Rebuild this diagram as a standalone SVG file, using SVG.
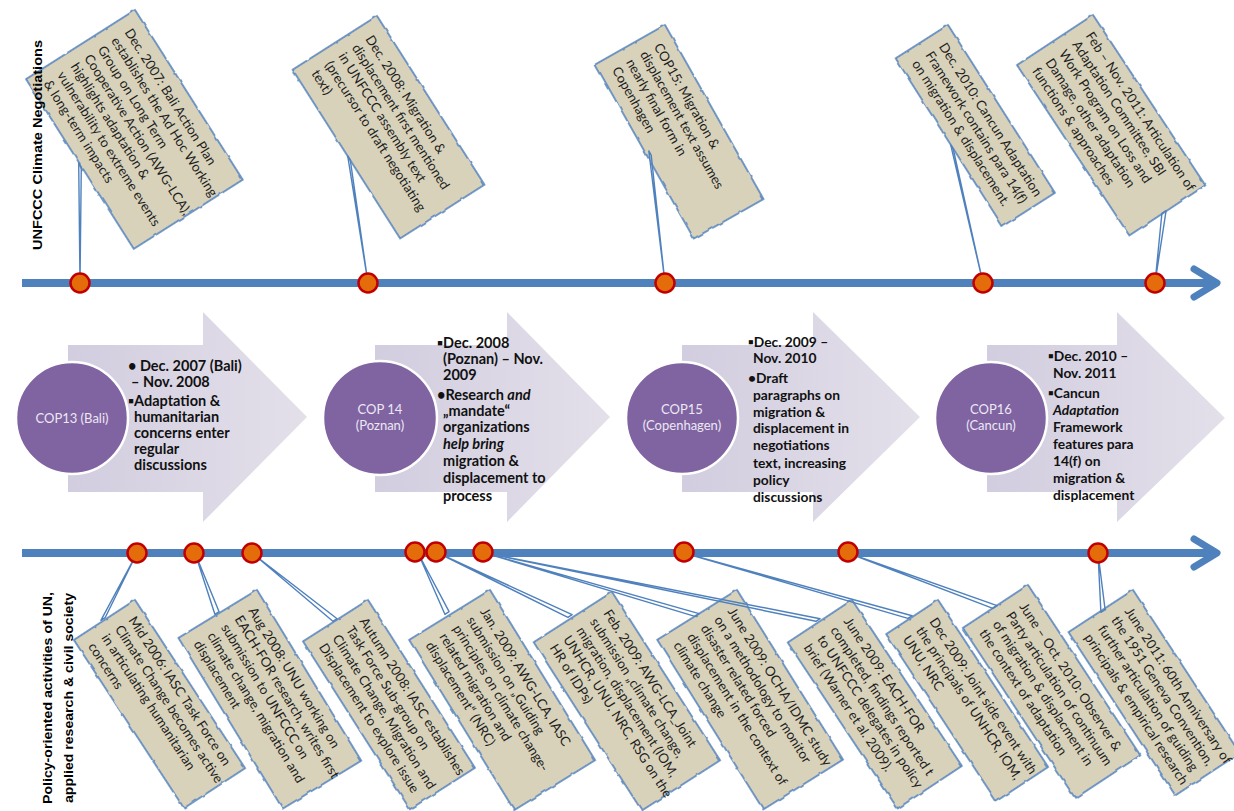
<svg xmlns="http://www.w3.org/2000/svg" width="1234" height="811" viewBox="0 0 1234 811">
<defs>
<filter id="rough" x="-5%" y="-5%" width="110%" height="110%">
<feTurbulence type="fractalNoise" baseFrequency="0.09" numOctaves="2" seed="4" result="n"/>
<feDisplacementMap in="SourceGraphic" in2="n" scale="3" xChannelSelector="R" yChannelSelector="G"/>
</filter>
<linearGradient id="arr" x1="0" y1="0" x2="1" y2="0">
<stop offset="0" stop-color="#d2cddf"/>
<stop offset="1" stop-color="#e3e0ea"/>
</linearGradient>
</defs>
<style>
.tl{stroke:#4f81bd;stroke-width:8;fill:none}
.chev{stroke:#4f81bd;stroke-width:7;fill:none;stroke-linejoin:round;stroke-linecap:round}
.dot{fill:#e46c0a;stroke:#c00000;stroke-width:2.5}
.box{fill:#d8d2bb;stroke:#4f81bd;stroke-width:1.6;filter:url(#rough)}
.bt{font-family:Lato,"Liberation Sans",sans-serif;font-size:13.3px;fill:#1e1e1e}
.con{fill:none;stroke:#4f81bd;stroke-width:1.4;stroke-linejoin:round}
.arrow{fill:url(#arr)}
.circ{fill:#8064a2;stroke:#ffffff;stroke-width:2.5}
.ct{font-family:Lato,"Liberation Sans",sans-serif;font-size:13px;fill:#ece8f4;text-anchor:middle}
.at{font-family:Lato,"Liberation Sans",sans-serif;font-weight:bold;fill:#111111}
.a15{font-size:14.5px}
.a14{font-size:13.8px}
.side{font-family:"Liberation Sans",Arial,sans-serif;font-weight:bold;font-size:13px;fill:#000000}
</style>

<g id="timelines">
<line class="tl" x1="22" y1="283" x2="1214" y2="283"/>
<polyline class="chev" points="1194,269 1217,283 1194,297"/>
<line class="tl" x1="22" y1="553" x2="1214" y2="553"/>
<polyline class="chev" points="1194,539 1217,553 1194,567"/>
</g>

<g id="phase1">
<polygon class="arrow" points="68,345 203,345 203,312 307,417 203,522 203,492 68,492"/>
<circle class="circ" cx="72" cy="418" r="56"/>
<text class="ct" x="72" y="423">COP13 (Bali)</text>
<g class="at a15">
<text x="128" y="371">• Dec. 2007 (Bali)</text>
<text x="131" y="387">– Nov. 2008</text>
<text x="128" y="406">▪Adaptation &amp;</text>
<text x="134" y="422">humanitarian</text>
<text x="134" y="438">concerns enter</text>
<text x="134" y="454">regular</text>
<text x="134" y="470">discussions</text>
</g>
</g>

<g id="phase2">
<polygon class="arrow" points="375,345 507,345 507,312 610,417 507,522 507,492 375,492"/>
<circle class="circ" cx="380" cy="418" r="57"/>
<text class="ct" x="380" y="414">COP 14</text>
<text class="ct" x="380" y="430">(Poznan)</text>
<g class="at a15">
<text x="437" y="348">▪Dec. 2008</text>
<text x="443" y="364">(Poznan) – Nov.</text>
<text x="443" y="380">2009</text>
<text x="437" y="400">•Research <tspan font-style="italic">and</tspan></text>
<text x="443" y="416">„mandate“</text>
<text x="443" y="432">organizations</text>
<text x="443" y="449" font-style="italic">help bring</text>
<text x="443" y="466">migration &amp;</text>
<text x="443" y="483">displacement to</text>
<text x="443" y="501">process</text>
</g>
</g>

<g id="phase3">
<polygon class="arrow" points="682,345 813,345 813,312 920,417 813,522 813,492 682,492"/>
<circle class="circ" cx="682" cy="418" r="56"/>
<text class="ct" x="682" y="414">COP15</text>
<text class="ct" x="682" y="430">(Copenhagen)</text>
<g class="at a14">
<text x="748" y="347">▪Dec. 2009 –</text>
<text x="753" y="363">Nov. 2010</text>
<text x="748" y="383">•Draft</text>
<text x="753" y="400">paragraphs on</text>
<text x="753" y="417">migration &amp;</text>
<text x="753" y="433">displacement in</text>
<text x="753" y="450">negotiations</text>
<text x="753" y="468">text, increasing</text>
<text x="753" y="485">policy</text>
<text x="753" y="502">discussions</text>
</g>
</g>

<g id="phase4">
<polygon class="arrow" points="987,345 1117,345 1117,312 1225,418 1117,522 1117,492 987,492"/>
<circle class="circ" cx="991" cy="418" r="56"/>
<text class="ct" x="991" y="414">COP16</text>
<text class="ct" x="991" y="430">(Cancun)</text>
<g class="at a14">
<text x="1048" y="361">▪Dec. 2010 –</text>
<text x="1053" y="378">Nov. 2011</text>
<text x="1048" y="398">▪Cancun</text>
<text x="1053" y="415" font-style="italic">Adaptation</text>
<text x="1053" y="432">Framework</text>
<text x="1053" y="449">features para</text>
<text x="1053" y="466">14(f) on</text>
<text x="1053" y="483">migration &amp;</text>
<text x="1053" y="500">displacement</text>
</g>
</g>

<g id="t1" transform="translate(135,10) rotate(57.6)">
<rect class="box" x="0" y="0" width="201" height="129"/>
<text class="bt" x="13" y="21">Dec. 2007: Bali Action Plan<tspan x="13" dy="16">establishes the Ad Hoc Working</tspan><tspan x="13" dy="16">Group on Long Term</tspan><tspan x="13" dy="16">Cooperative Action (AWG-LCA),</tspan><tspan x="13" dy="16">highlights adaptation &amp;</tspan><tspan x="13" dy="16">vulnerability to extreme events</tspan><tspan x="13" dy="16">&amp; long-term impacts</tspan></text>
</g>
<g id="t2" transform="translate(377,16) rotate(57.5)">
<rect class="box" x="0" y="0" width="200" height="100"/>
<text class="bt" x="13" y="22.5">Dec. 2008: Migration &amp;<tspan x="13" dy="16">displacement first mentioned</tspan><tspan x="13" dy="16">in  UNFCCC  assembly text</tspan><tspan x="13" dy="16">(precursor to draft negotiating</tspan><tspan x="13" dy="16">text)</tspan></text>
</g>
<g id="t3" transform="translate(665,25) rotate(60.5)">
<rect class="box" x="0" y="0" width="200" height="80"/>
<text class="bt" x="13" y="20.5">COP15: Migration &amp;<tspan x="13" dy="16">displacement text assumes</tspan><tspan x="13" dy="16">nearly final form in</tspan><tspan x="13" dy="16">Copenhagen</tspan></text>
</g>
<g id="t4" transform="translate(948,25) rotate(57.5)">
<rect class="box" x="0" y="0" width="199" height="62"/>
<text class="bt" x="13" y="19.5">Dec. 2010: Cancun Adaptation<tspan x="13" dy="16">Framework contains para 14(f)</tspan><tspan x="13" dy="16">on migration &amp; displacement.</tspan></text>
</g>
<g id="t5" transform="translate(1093,15) rotate(56.6)">
<rect class="box" x="0" y="0" width="204" height="91"/>
<text class="bt" x="13" y="18">Feb – Nov. 2011: Articulation of<tspan x="13" dy="16">Adaptation Committee, SBI</tspan><tspan x="13" dy="16">Work Program on Loss and</tspan><tspan x="13" dy="16">Damage, other adaptation</tspan><tspan x="13" dy="16">functions &amp; approaches</tspan></text>
</g>

<g id="b1" transform="translate(135,600) rotate(56.8)">
<rect class="box" x="0" y="0" width="201" height="73"/>
<text class="bt" x="13" y="17">Mid 2006: IASC Task Force on<tspan x="13" dy="16">Climate Change becomes active</tspan><tspan x="13" dy="16">in articulating humanitarian</tspan><tspan x="13" dy="16">concerns</tspan></text>
</g>
<g id="b2" transform="translate(257,590) rotate(58.6)">
<rect class="box" x="0" y="0" width="200" height="92"/>
<text class="bt" x="13" y="18.5">Aug 2008: UNU working on<tspan x="13" dy="16">EACH-FOR research, writes first</tspan><tspan x="13" dy="16">submission to UNFCCC on</tspan><tspan x="13" dy="16">climate change, migration and</tspan><tspan x="13" dy="16">displacement</tspan></text>
</g>
<g id="b3" transform="translate(368,600) rotate(57.5)">
<rect class="box" x="0" y="0" width="199" height="77"/>
<text class="bt" x="13" y="19">Autumn 2008: IASC establishes<tspan x="13" dy="16">Task Force Sub-group on</tspan><tspan x="13" dy="16">Climate Change, Migration and</tspan><tspan x="13" dy="16">Displacement to explore issue</tspan></text>
</g>
<g id="b4" transform="translate(490,590) rotate(58.3)">
<rect class="box" x="0" y="0" width="200" height="95"/>
<text class="bt" x="13" y="20">Jan. 2009: AWG-LCA, IASC<tspan x="13" dy="16">submission on „Guiding</tspan><tspan x="13" dy="16">principles on climate change-</tspan><tspan x="13" dy="16">related migration and</tspan><tspan x="13" dy="16">displacement“ (NRC)</tspan></text>
</g>
<g id="b5" transform="translate(612,592) rotate(57.3)">
<rect class="box" x="0" y="0" width="200" height="93"/>
<text class="bt" x="13" y="19">Feb. 2009: AWG-LCA_Joint<tspan x="13" dy="16">submission „climate change,</tspan><tspan x="13" dy="16">migration, displacement (IOM,</tspan><tspan x="13" dy="16">UNHCR, UNU, NRC, RSG on the</tspan><tspan x="13" dy="16">HR of IDPs)</tspan></text>
</g>
<g id="b6" transform="translate(737,590) rotate(58)">
<rect class="box" x="0" y="0" width="200" height="94"/>
<text class="bt" x="13" y="19.5">June 2009: OCHA/IDMC study<tspan x="13" dy="16">on a methodology to monitor</tspan><tspan x="13" dy="16">disaster related forced</tspan><tspan x="13" dy="16">displacement in the context of</tspan><tspan x="13" dy="16">climate change</tspan></text>
</g>
<g id="b7" transform="translate(852,600) rotate(56.5)">
<rect class="box" x="0" y="0" width="199" height="77"/>
<text class="bt" x="13" y="19">June 2009: EACH-FOR<tspan x="13" dy="16">completed, findings reported t</tspan><tspan x="13" dy="16">to UNFCCC delegates in policy</tspan><tspan x="13" dy="16">brief (Warner et al. 2009).</tspan></text>
</g>
<g id="b8" transform="translate(938,600) rotate(56.6)">
<rect class="box" x="0" y="0" width="200" height="62"/>
<text class="bt" x="13" y="19.5">Dec 2009: Joint side event  with<tspan x="13" dy="16">the principals of UNHCR, IOM,</tspan><tspan x="13" dy="16">UNU, NRC</tspan></text>
</g>
<g id="b9" transform="translate(1028,585) rotate(56.6)">
<rect class="box" x="0" y="0" width="204" height="78"/>
<text class="bt" x="13" y="19.5">June – Oct. 2010: Observer &amp;<tspan x="13" dy="16">Party articulation of continuum</tspan><tspan x="13" dy="16">of migration &amp; displacment in</tspan><tspan x="13" dy="16">the context of adaptation</tspan></text>
</g>
<g id="b10" transform="translate(1133,590) rotate(56.8)">
<rect class="box" x="0" y="0" width="195" height="77"/>
<text class="bt" x="13" y="19">June 2011: 60th Anniversary of<tspan x="13" dy="16">the 1951 Geneva Convention,</tspan><tspan x="13" dy="16">further articulation of guiding</tspan><tspan x="13" dy="16">principals &amp; empirical research</tspan></text>
</g>

<g id="connectors">
<polygon class="con" points="80,283 78.7,162.9 81.3,167.1"/>
<polygon class="con" points="368,283 347.7,155.9 350.3,160.1"/>
<polygon class="con" points="665,283 648.8,150.9 651.2,155.1"/>
<polygon class="con" points="983,283 950.7,144.9 953.3,149.1"/>
<polygon class="con" points="1155,283 1166.1,210.6 1161.9,213.4"/>
<polygon class="con" points="137,553 105.1,617.7 100.9,620.3"/>
<polygon class="con" points="195,553 219.1,611.7 214.9,614.3"/>
<polygon class="con" points="252,553 337.1,618.7 332.9,621.3"/>
<polygon class="con" points="418,553 449.1,611.7 444.9,614.3"/>
<polygon class="con" points="438,553 572.1,614.7 567.9,617.3"/>
<polygon class="con" points="485,553 699.1,613.7 694.9,616.3"/>
<polygon class="con" points="485,553 820.1,618.7 815.9,621.3"/>
<polygon class="con" points="684,553 912.1,615.7 907.9,618.3"/>
<polygon class="con" points="848,553 997.1,605.7 992.9,608.3"/>
<polygon class="con" points="1098,553 1105.1,609.7 1100.9,612.3"/>
</g>

<g id="dots">
<circle class="dot" cx="80" cy="283" r="9.5"/>
<circle class="dot" cx="368" cy="283" r="9.5"/>
<circle class="dot" cx="665" cy="283" r="9.5"/>
<circle class="dot" cx="983" cy="283" r="9.5"/>
<circle class="dot" cx="1155" cy="283" r="9.5"/>
<circle class="dot" cx="137" cy="553" r="9.5"/>
<circle class="dot" cx="194" cy="553" r="9.5"/>
<circle class="dot" cx="252" cy="553" r="9.5"/>
<circle class="dot" cx="415" cy="552" r="9.5"/>
<circle class="dot" cx="436" cy="552" r="9.5"/>
<circle class="dot" cx="483" cy="552" r="9.5"/>
<circle class="dot" cx="684" cy="552" r="9.5"/>
<circle class="dot" cx="848" cy="552" r="9.5"/>
<circle class="dot" cx="1098" cy="553" r="9.5"/>
</g>

<g id="labels">
<text class="side" transform="translate(42,145) rotate(-90)" text-anchor="middle" textLength="210" lengthAdjust="spacingAndGlyphs">UNFCCC Climate Negotiations</text>
<text class="side" transform="translate(52,592) rotate(-90)" text-anchor="end" textLength="212" lengthAdjust="spacingAndGlyphs">Policy-oriented activities of UN,</text>
<text class="side" transform="translate(73,593) rotate(-90)" text-anchor="end" textLength="210" lengthAdjust="spacingAndGlyphs">applied research &amp; civil society</text>
</g>
</svg>
